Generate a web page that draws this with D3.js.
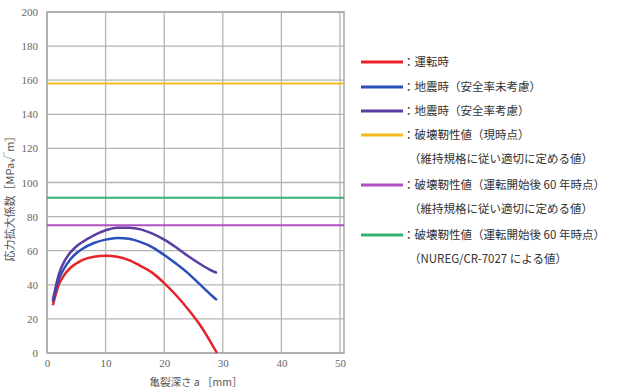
<!DOCTYPE html>
<html>
<head>
<meta charset="utf-8">
<script src="https://cdn.jsdelivr.net/npm/d3@7"></script>
<style>
  body { margin: 0; background: #fff; }
  svg text { font-family: "Noto Sans CJK JP", "DejaVu Serif", serif; }
  .tick text { font-family: "Liberation Serif", "DejaVu Serif", serif; }
</style>
</head>
<body>
<div id="chart"></div>
<script>
// crack depth (mm)
const depth = [1, 2, 3, 4, 5, 6, 8, 10, 12, 14, 16, 18, 20, 22, 24, 26, 28, 29];

// stress intensity factor (MPa√m)
const operation = [28, 40, 46, 50, 52.5, 54.5, 56.5, 57, 56.5, 54.5, 51, 47, 41, 34, 26, 17, 6, 0];
const quakeNoSafety = [30, 43, 50, 55, 58.5, 61, 64.5, 66.5, 67.5, 67, 65, 62, 57.5, 52.5, 47, 40.5, 34, 31];
const quakeSafety = [31, 46, 54, 59, 62.5, 65, 69, 72, 73.5, 73.5, 72.5, 70, 66.5, 62, 57, 52.5, 48.5, 47];

// toughness levels
const toughNow = 158;
const tough60 = 75;
const tough60Nureg = 91;

const xTicks = [0, 10, 20, 30, 40, 50];
const yTicks = [0, 20, 40, 60, 80, 100, 120, 140, 160, 180, 200];

const W = 620, H = 389;
const svg = d3.select("#chart").append("svg")
  .attr("width", W).attr("height", H);

const x = d3.scaleLinear().domain([0, 50]).range([47, 340]);
const y = d3.scaleLinear().domain([0, 200]).range([353, 12]);

// grid
svg.append("g").selectAll("line").data(xTicks).enter().append("line")
  .attr("x1", d => x(d)).attr("x2", d => x(d))
  .attr("y1", y(0)).attr("y2", y(200))
  .attr("stroke", "#b4b4b4").attr("stroke-width", 1.3);
svg.append("g").selectAll("line").data(yTicks).enter().append("line")
  .attr("x1", x(0)).attr("x2", 344)
  .attr("y1", d => y(d)).attr("y2", d => y(d))
  .attr("stroke", "#b4b4b4").attr("stroke-width", 1.3);
svg.append("rect")
  .attr("x", x(0)).attr("y", y(200))
  .attr("width", 344 - x(0)).attr("height", y(0) - y(200))
  .attr("fill", "none").attr("stroke", "#a8a8a8").attr("stroke-width", 1.5);

// axes (labels only)
const xAxis = svg.append("g")
  .attr("transform", `translate(0,${y(0)})`)
  .call(d3.axisBottom(x).tickValues(xTicks).tickSize(0).tickPadding(6));
const yAxis = svg.append("g")
  .attr("transform", `translate(${x(0)},0)`)
  .call(d3.axisLeft(y).tickValues(yTicks).tickSize(0).tickPadding(9));
[xAxis, yAxis].forEach(a => {
  a.select(".domain").remove();
  a.selectAll("text").attr("fill", "#666").style("font-size", "11px");
});

svg.append("text")
  .attr("x", 196).attr("y", 386)
  .attr("text-anchor", "middle")
  .attr("fill", "#555").style("font-size", "10.5px")
  .text("亀裂深さ a ［mm］");

svg.append("text")
  .attr("transform", "translate(14,196) rotate(-90)")
  .attr("text-anchor", "middle")
  .attr("fill", "#555").style("font-size", "11px")
  .text("応力拡大係数［MPa√m］");

// toughness lines
const levels = [
  { v: toughNow, color: "#f6b91e" },
  { v: tough60Nureg, color: "#35b070" },
  { v: tough60, color: "#b150c4" }
];
svg.append("g").selectAll("line").data(levels).enter().append("line")
  .attr("x1", x(0)).attr("x2", 344)
  .attr("y1", d => y(d.v)).attr("y2", d => y(d.v))
  .attr("stroke", d => d.color).attr("stroke-width", 2);

// curves
const line = d3.line()
  .x((d, i) => x(depth[i]))
  .y(d => y(d))
  .curve(d3.curveMonotoneX);

const curves = [
  { values: operation, color: "#e8222b" },
  { values: quakeNoSafety, color: "#2a4fb8" },
  { values: quakeSafety, color: "#5b3ea0" }
];
svg.append("g").selectAll("path").data(curves).enter().append("path")
  .attr("d", d => line(d.values))
  .attr("fill", "none")
  .attr("stroke", d => d.color)
  .attr("stroke-width", 2.5);

// legend
const legendItems = [
  { color: "#e8222b", label: "：運転時", y: 62 },
  { color: "#2a4fb8", label: "：地震時（安全率未考慮）", y: 87 },
  { color: "#5b3ea0", label: "：地震時（安全率考慮）", y: 111 },
  { color: "#f6b91e", label: "：破壊靭性値（現時点）", y: 135 },
  { color: null, label: "（維持規格に従い適切に定める値）", y: 159 },
  { color: "#b150c4", label: "：破壊靭性値（運転開始後 60 年時点）", y: 185 },
  { color: null, label: "（維持規格に従い適切に定める値）", y: 209 },
  { color: "#35b070", label: "：破壊靭性値（運転開始後 60 年時点）", y: 235 },
  { color: null, label: "（NUREG/CR-7027 による値）", y: 259 }
];
const legend = svg.append("g");
legendItems.forEach(d => {
  if (d.color) {
    legend.append("line")
      .attr("x1", 361).attr("x2", 403)
      .attr("y1", d.y).attr("y2", d.y)
      .attr("stroke", d.color).attr("stroke-width", 3);
  }
  legend.append("text")
    .attr("x", d.color ? 403 : 409)
    .attr("y", d.y + 4)
    .attr("fill", "#333")
    .style("font-size", "11.5px")
    .text(d.label);
});
</script>
</body>
</html>
